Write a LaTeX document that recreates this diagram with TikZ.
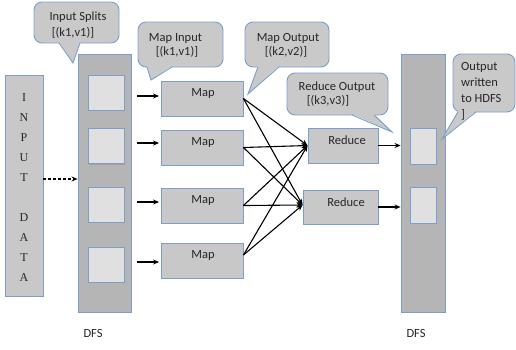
\documentclass[tikz,border=0pt]{standalone}
\usepackage{fontspec}
\setmainfont{Carlito}
\newfontfamily\serifletters{Liberation Serif}
\usetikzlibrary{arrows.meta,shadows}
\definecolor{bordblue}{HTML}{7A9FCF}
\definecolor{boxgray}{HTML}{C8C8C8}
\definecolor{colgray}{HTML}{B5B5B5}
\definecolor{sqgray}{HTML}{E0E0E0}
\definecolor{callgray}{HTML}{C9C9C9}
\newcommand\callbox[8]{% left top right bottom base1 base2 tipx tipy
  \filldraw[co, rounded corners=8pt] (#1,#2) rectangle (#3,#4);
  \fill[callgray] (#5,#4-1.2) -- (#7,#8) -- (#6,#4-1.2) -- cycle;
  \draw[bordblue, line width=0.9pt, line join=miter] (#5,#4) -- (#7,#8) -- (#6,#4);
}
\begin{document}
\begin{tikzpicture}[x=1pt,y=-1pt,
  every node/.style={font=\fontsize{12.5}{15}\selectfont, text=black!85},
  bx/.style={draw=bordblue, line width=0.9pt, fill=boxgray, inner sep=0pt,
    drop shadow={shadow xshift=0.6pt, shadow yshift=-1pt, opacity=0.3}},
  col/.style={draw=bordblue, line width=0.9pt, fill=colgray, inner sep=0pt},
  sq/.style={draw=bordblue, line width=0.9pt, fill=sqgray, inner sep=0pt,
    drop shadow={shadow xshift=0.6pt, shadow yshift=-1pt, opacity=0.4}},
  arr/.style={line width=1.1pt, -{Stealth[length=6pt,width=5pt]}},
  co/.style={draw=bordblue, line width=0.9pt, fill=callgray},
  lbl/.style={inner sep=0pt}]
\useasboundingbox (0,0) rectangle (516,349);

% input data
\node[bx, minimum width=38pt, minimum height=221pt] (inp) at (24,185.5) {};
\node[lbl, font=\serifletters\fontsize{12}{20}\selectfont, align=center] (letters) at (24,188)
  {I\\N\\P\\U\\T\\[20pt]D\\A\\T\\A};

% left DFS column
\node[col, minimum width=53pt, minimum height=258pt] (dfsL) at (104.5,183) {};
\node[sq, minimum width=36pt, minimum height=35pt] (sq1) at (106,92.5) {};
\node[sq, minimum width=36pt, minimum height=35pt] (sq2) at (106,146) {};
\node[sq, minimum width=36pt, minimum height=35pt] (sq3) at (106,204.5) {};
\node[sq, minimum width=36pt, minimum height=35pt] (sq4) at (106,264.5) {};

% map boxes
\node[bx, minimum width=82pt, minimum height=35pt] (m1) at (202,98.5) {};
\node[bx, minimum width=82pt, minimum height=35pt] (m2) at (202,147.5) {};
\node[bx, minimum width=82pt, minimum height=35pt] (m3) at (202,205.5) {};
\node[bx, minimum width=82pt, minimum height=35pt] (m4) at (202,260.5) {};
\node[lbl] (m1t) at (203,93) {Map};
\node[lbl] (m2t) at (203,142) {Map};
\node[lbl] (m3t) at (203,200) {Map};
\node[lbl] (m4t) at (203,255) {Map};

% reduce boxes
\node[bx, minimum width=70pt, minimum height=35pt] (r1) at (343,145.5) {};
\node[bx, minimum width=75pt, minimum height=34pt] (r2) at (340.5,207) {};
\node[lbl] (r1t) at (347,140) {Reduce};
\node[lbl] (r2t) at (346,202) {Reduce};

% right DFS column
\node[col, minimum width=44pt, minimum height=258pt] (dfsR) at (423,183) {};
\node[sq, minimum width=26pt, minimum height=36pt] (sq5) at (423,146) {};
\node[sq, minimum width=26pt, minimum height=36pt] (sq6) at (423,205) {};

% DFS labels
\node[lbl] (dfsLlbl) at (93,333) {DFS};
\node[lbl] (dfsRlbl) at (416,333) {DFS};

% connectors
\coordinate (d0) at (43,179);
\draw[arr, dash pattern=on 3pt off 2pt] (inp.east |- d0) -- (d0 -| dfsL.west);
\coordinate (a1) at (137,96);
\coordinate (a2) at (137,143);
\coordinate (a3) at (137,202);
\coordinate (a4) at (137,262);
\draw[arr, shorten >=1.5pt] (a1) -- (a1 -| m1.west);
\draw[arr, shorten >=1.5pt] (a2) -- (a2 -| m2.west);
\draw[arr, shorten >=1.5pt] (a3) -- (a3 -| m3.west);
\draw[arr, shorten >=1.5pt] (a4) -- (a4 -| m4.west);

\coordinate (e1) at (m1.east);
\coordinate (e2) at (m2.east);
\coordinate (e3) at (m3.east);
\coordinate (e4) at ([yshift=5.5pt]m4.east);
\foreach \e in {e1,e2,e3,e4}{
  \draw[arr] (\e) -- (r1.west);
  \draw[arr] (\e) -- ([yshift=2pt]r2.west);
}
\draw[arr] (r1.east) -- (r1.east -| dfsR.west);
\draw[arr] (r2.east) -- (r2.east -| dfsR.west);

% callouts
\callbox{34}{2}{119}{43}{59}{80}{73}{63}
\node[lbl] (cs1) at (78,17) {Input Splits};
\node[lbl] (cs2) at (73,33) {[(k1,v1)]};

\callbox{138}{22}{223}{67}{147}{172}{151}{80}
\node[lbl] (mi1) at (175.5,38) {Map Input};
\node[lbl] (mi2) at (177,52) {[(k1,v1)]};

\callbox{245}{22}{329}{67}{258}{279}{248}{94}
\node[lbl] (mo1) at (288,38) {Map Output};
\node[lbl] (mo2) at (286,52) {[(k2,v2)]};

\callbox{287}{73}{388}{115}{352}{374}{392}{132}
\node[lbl] (ro1) at (337,87) {Reduce Output};
\node[lbl] (ro2) at (328,101) {[(k3,v3)]};

\callbox{453}{54}{515}{112}{458}{476}{442}{139}
\node[lbl, align=left, anchor=west, font=\fontsize{12.5}{16}\selectfont] (outtxt) at (461,91.5)
  {Output\\written\\to HDFS\\]};
\end{tikzpicture}
\end{document}
